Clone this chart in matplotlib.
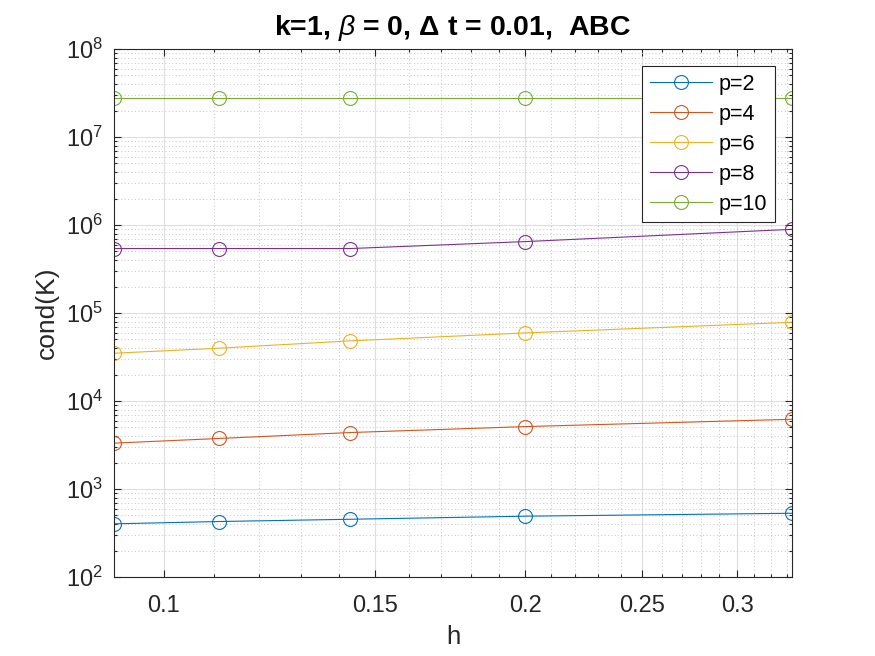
import matplotlib
matplotlib.use('Agg')
import matplotlib.pyplot as plt
from matplotlib.ticker import FixedLocator, FixedFormatter, NullFormatter, LogLocator

# ---- data ----
h = [0.0909, 0.1111, 0.1429, 0.2000, 0.3333]
cond_p2 = [402, 427, 453, 491, 530]
cond_p4 = [3320, 3750, 4380, 5120, 6200]
cond_p6 = [34900, 39800, 48200, 59400, 78400]
cond_p8 = [5.40e5, 5.40e5, 5.40e5, 6.48e5, 8.93e5]
cond_p10 = [2.75e7, 2.75e7, 2.75e7, 2.75e7, 2.75e7]
series = [cond_p2, cond_p4, cond_p6, cond_p8, cond_p10]
labels = ['p=2', 'p=4', 'p=6', 'p=8', 'p=10']
xticks = [0.1, 0.15, 0.2, 0.25, 0.3]
xticklabels = ['0.1', '0.15', '0.2', '0.25', '0.3']
xminor = [0.11, 0.12, 0.13, 0.14, 0.16, 0.17, 0.18, 0.19, 0.21, 0.22, 0.23,
          0.24, 0.26, 0.27, 0.28, 0.29, 0.31, 0.32, 0.33]

colors = ['#0072BD', '#D95319', '#EDB120', '#7E2F8E', '#77AC30']

plt.rcParams['font.family'] = ['Liberation Sans', 'DejaVu Sans']
plt.rcParams['mathtext.fontset'] = 'custom'
plt.rcParams['mathtext.rm'] = 'Liberation Sans'
plt.rcParams['mathtext.it'] = 'Liberation Sans:italic'
plt.rcParams['mathtext.bf'] = 'Liberation Sans:bold'
plt.rcParams['mathtext.default'] = 'regular'

dark = '#262626'
fig = plt.figure(figsize=(8.75, 6.56), dpi=100)
ax = fig.add_axes([114/875, 1-577/656, (792-114)/875, (577-49)/656])

for y, c, lab in zip(series, colors, labels):
    ax.plot(h, y, '-o', color=c, mfc='none', mec=c, ms=10, lw=0.8, mew=0.8, label=lab)

ax.set_xscale('log')
ax.set_yscale('log')
ax.set_xlim(h[0], h[-1])
ax.set_ylim(1e2, 1e8)

ax.xaxis.set_major_locator(FixedLocator(xticks))
ax.xaxis.set_major_formatter(FixedFormatter(xticklabels))
ax.xaxis.set_minor_locator(FixedLocator(xminor))
ax.xaxis.set_minor_formatter(NullFormatter())
ax.yaxis.set_major_locator(LogLocator(base=10, numticks=20))
ax.yaxis.set_minor_locator(LogLocator(base=10, subs=range(2, 10), numticks=20))
ax.yaxis.set_minor_formatter(NullFormatter())

ax.grid(True, which='major', color='#dedede', linestyle='-', linewidth=0.8)
ax.grid(True, which='minor', color='#c4c4c4', linestyle=(0, (1, 2.5)), linewidth=0.7)
ax.set_axisbelow(True)

ax.tick_params(which='both', direction='in', top=True, right=True, color=dark,
               labelcolor=dark, labelsize=17, width=0.8)
ax.tick_params(which='major', length=4.8)
ax.tick_params(which='minor', length=2.4)
ax.tick_params(axis='x', pad=13)
ax.tick_params(axis='y', pad=8)
for s in ax.spines.values():
    s.set_color(dark)
    s.set_linewidth(0.8)

ax.set_xlabel('h', fontsize=18.5, color=dark, labelpad=6)
ax.set_ylabel('cond(K)', fontsize=19, color=dark, labelpad=5)
ax.set_title(r'k=1, $\mathit{\beta}$ = 0, $\Delta$ t = 0.01,  ABC', fontsize=20.5,
             fontweight='bold', pad=10)

leg = ax.legend(loc='upper right', fontsize=15.5, fancybox=False, framealpha=1,
                edgecolor=dark, handlelength=2.9, handletextpad=0.3,
                labelspacing=0.42, borderaxespad=0.8, borderpad=0.35)
leg.get_frame().set_linewidth(0.8)

fig.savefig('out.png', dpi=100)
